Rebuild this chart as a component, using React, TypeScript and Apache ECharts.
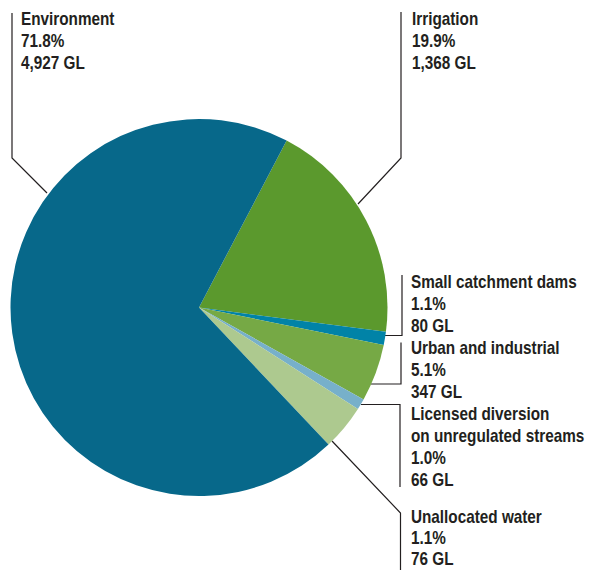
import React, { useEffect, useRef } from "react";
import * as echarts from "echarts";

// ---- Data ----
const categories = [
  "Irrigation",
  "Small catchment dams",
  "Urban and industrial",
  "Licensed diversion\non unregulated streams",
  "Unallocated water",
  "Environment",
];
const labelPercent = ["19.9%", "1.1%", "5.1%", "1.0%", "1.1%", "71.8%"];
const labelVolume = ["1,368 GL", "80 GL", "347 GL", "66 GL", "76 GL", "4,927 GL"];
// Slice sizes (GL) as they are drawn in the source graphic
const sliceValues = [1368, 80, 347, 66, 276, 4927];

// ---- Styles ----
const sliceColors = ["#5b992d", "#0183a7", "#76a945", "#77b0ca", "#adc98f", "#07688a"];
const textColor = "#231f20";
const labelPos: [number, number][] = [
  [412, 10],
  [411, 273],
  [411, 339],
  [411, 405],
  [411, 508.5],
  [21, 10],
];
const lineSteps = [22, 22, 22, 22, 21, 22];
const leaderLines: [number, number][][] = [
  [[401, 12], [401, 158], [358, 204]],
  [[402, 275], [402, 335.5], [385, 335.5]],
  [[401, 342.5], [401, 384], [371, 384]],
  [[361, 404.5], [400, 404.5], [400, 487]],
  [[332, 441], [400.5, 513], [400.5, 570]],
  [[12, 13], [12, 158], [47, 193]],
];

export default function App() {
  const ref = useRef<HTMLDivElement>(null);
  useEffect(() => {
    document.body.style.margin = "0";
    if (!ref.current) return;
    const chart = echarts.init(ref.current, undefined, { renderer: "svg" });
    const graphics: any[] = [];
    categories.forEach((name, i) => {
      graphics.push({
        type: "polyline",
        shape: { points: leaderLines[i] },
        style: { stroke: textColor, lineWidth: 1.2, fill: "none" },
        silent: true,
      });
      const lines = [...name.split("\n"), labelPercent[i], labelVolume[i]];
      lines.forEach((ln, k) => {
        graphics.push({
          type: "text",
          x: labelPos[i][0],
          y: labelPos[i][1] + k * lineSteps[i],
          scaleX: 0.85,
          style: {
            text: ln,
            fill: textColor,
            fontSize: 18,
            fontWeight: "bold",
            fontFamily: '"Liberation Sans", Arial, sans-serif',
            lineHeight: 18,
            verticalAlign: "top",
            align: "left",
          },
          silent: true,
        });
      });
    });
    chart.setOption({
      animation: false,
      backgroundColor: "#ffffff",
      series: [
        {
          type: "pie",
          center: [199, 307.5],
          radius: 188.5,
          startAngle: 62.3,
          clockwise: true,
          label: { show: false },
          labelLine: { show: false },
          itemStyle: { borderWidth: 0 },
          emphasis: { disabled: true },
          data: categories.map((n, i) => ({
            name: n,
            value: sliceValues[i],
            itemStyle: { color: sliceColors[i] },
          })),
        },
      ],
      graphic: graphics,
    });
    return () => chart.dispose();
  }, []);
  return <div ref={ref} style={{ width: 590, height: 570 }} />;
}
